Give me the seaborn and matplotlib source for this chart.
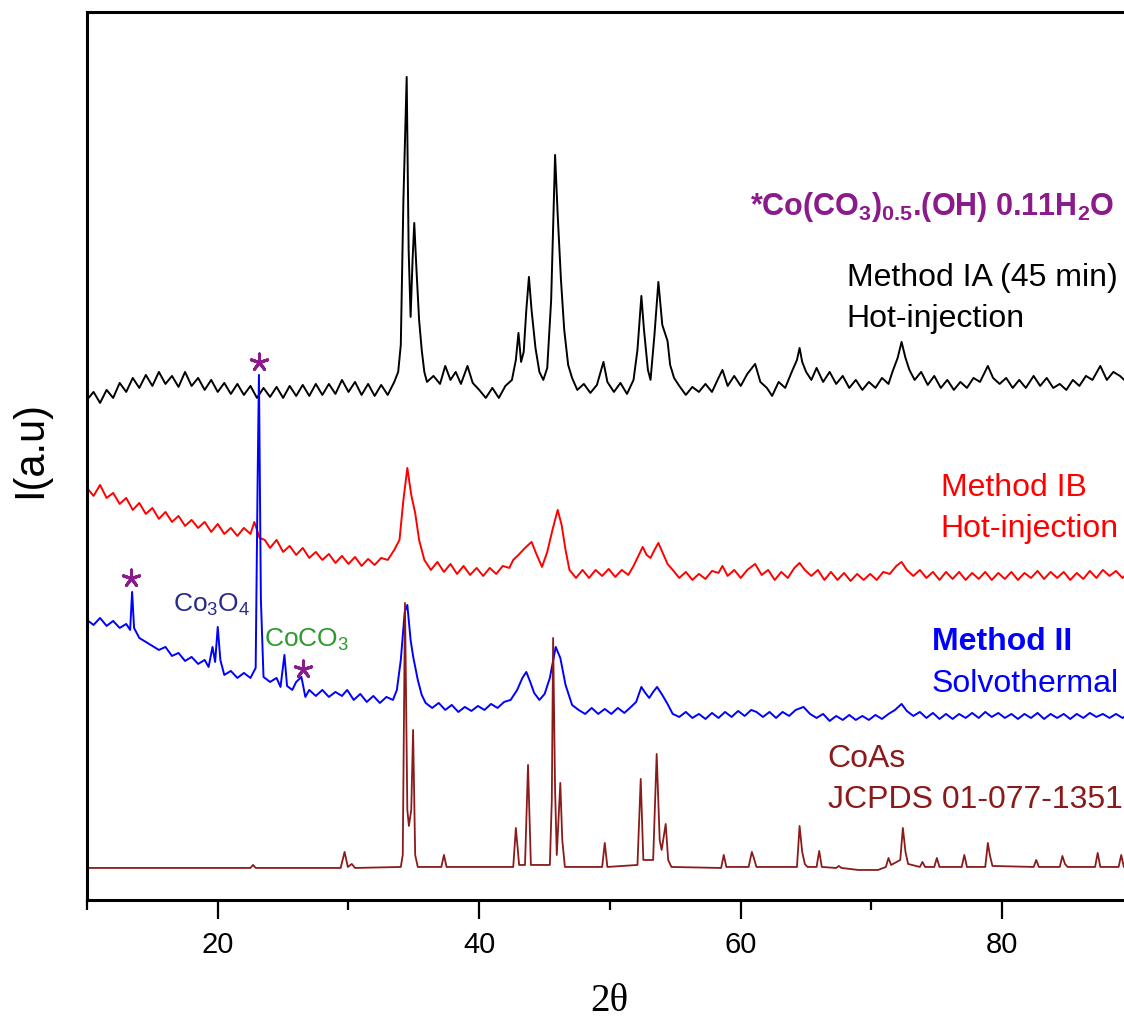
import matplotlib
matplotlib.use("Agg")
import pandas as pd
import seaborn as sns
from matplotlib import pyplot as plt
from matplotlib.ticker import MultipleLocator

# (2theta, intensity a.u.), traces stacked with their own offsets
method_ia = [
    (10.0, 500), (10.5, 508), (11.0, 497), (11.5, 510), (12.0, 502), (12.5, 517), (13.0, 508), (13.5, 522),
    (14.0, 512), (14.5, 525), (15.0, 514), (15.5, 528), (16.0, 516), (16.5, 524), (17.0, 513), (17.5, 528),
    (18.0, 514), (18.5, 522), (19.0, 510), (19.5, 520), (20.0, 508), (20.5, 517), (21.0, 506), (21.5, 516),
    (22.0, 505), (22.5, 514), (23.0, 502), (23.5, 512), (24.0, 503), (24.5, 513), (25.0, 502), (25.5, 514),
    (26.0, 504), (26.5, 515), (27.0, 504), (27.5, 516), (28.0, 505), (28.5, 516), (29.0, 506), (29.5, 520),
    (30.0, 508), (30.5, 518), (31.0, 505), (31.5, 516), (32.0, 504), (32.5, 515), (33.0, 505), (33.5, 518),
    (33.8, 528), (34.0, 555), (34.2, 700), (34.45, 823), (34.6, 650), (34.75, 583), (34.9, 640), (35.03, 677),
    (35.2, 630), (35.4, 580), (35.6, 550), (35.8, 528), (36.0, 518), (36.5, 524), (37.0, 516), (37.4, 534),
    (37.8, 520), (38.2, 528), (38.6, 516), (39.1, 534), (39.5, 517), (40.0, 510), (40.5, 502), (41.0, 512),
    (41.5, 502), (42.0, 514), (42.5, 520), (42.8, 540), (43.0, 567), (43.2, 538), (43.4, 548), (43.6, 590),
    (43.8, 623), (44.0, 590), (44.3, 552), (44.6, 528), (44.9, 520), (45.2, 532), (45.5, 600), (45.8, 745),
    (46.0, 685), (46.25, 620), (46.5, 570), (46.8, 535), (47.1, 522), (47.5, 510), (48.0, 516), (48.5, 507),
    (49.0, 515), (49.5, 538), (49.8, 518), (50.3, 508), (50.8, 517), (51.3, 506), (51.8, 520), (52.1, 550),
    (52.4, 604), (52.6, 570), (52.9, 530), (53.1, 520), (53.4, 565), (53.7, 618), (54.0, 575), (54.4, 559),
    (54.6, 535), (54.9, 522), (55.3, 514), (55.8, 505), (56.3, 513), (56.8, 508), (57.3, 516), (57.8, 508),
    (58.3, 522), (58.6, 530), (59.0, 514), (59.5, 524), (60.0, 514), (60.5, 526), (61.1, 536), (61.5, 518),
    (62.0, 512), (62.4, 504), (62.9, 518), (63.4, 512), (63.9, 528), (64.3, 540), (64.5, 552), (64.7, 538),
    (65.0, 528), (65.4, 520), (65.8, 532), (66.3, 518), (66.8, 528), (67.3, 516), (67.8, 524), (68.3, 512),
    (68.8, 520), (69.3, 510), (69.8, 518), (70.3, 512), (70.8, 522), (71.3, 516), (71.6, 528), (72.0, 542),
    (72.3, 558), (72.6, 542), (72.9, 530), (73.3, 520), (73.8, 528), (74.3, 515), (74.8, 524), (75.3, 512),
    (75.8, 520), (76.3, 510), (76.8, 518), (77.3, 512), (77.8, 522), (78.3, 518), (78.9, 534), (79.3, 522),
    (79.8, 516), (80.3, 522), (80.8, 512), (81.3, 520), (81.8, 512), (82.4, 524), (82.9, 514), (83.4, 522),
    (83.9, 512), (84.4, 516), (84.9, 510), (85.4, 520), (85.9, 514), (86.4, 524), (86.9, 520), (87.5, 534),
    (88.0, 520), (88.5, 528), (89.0, 524), (89.5, 518), (90.0, 522),
]

method_ib = [
    (10.0, 412), (10.5, 404), (11.0, 415), (11.5, 402), (12.0, 407), (12.5, 396), (13.0, 402), (13.5, 390),
    (14.0, 397), (14.5, 386), (15.0, 392), (15.5, 381), (16.0, 388), (16.5, 378), (17.0, 384), (17.5, 374),
    (18.0, 380), (18.5, 372), (19.0, 378), (19.5, 368), (20.0, 376), (20.5, 366), (21.0, 372), (21.5, 364),
    (22.0, 372), (22.5, 366), (22.8, 378), (23.2, 362), (23.6, 360), (24.0, 352), (24.5, 360), (25.0, 348),
    (25.5, 354), (26.0, 345), (26.5, 352), (27.0, 342), (27.5, 348), (28.0, 340), (28.5, 346), (29.0, 337),
    (29.5, 344), (30.0, 336), (30.5, 343), (31.0, 334), (31.5, 341), (32.0, 335), (32.5, 342), (33.0, 340),
    (33.5, 350), (33.9, 360), (34.2, 400), (34.5, 432), (34.8, 405), (35.1, 387), (35.4, 360), (35.8, 340),
    (36.3, 330), (36.8, 338), (37.3, 328), (37.8, 336), (38.3, 326), (38.8, 334), (39.3, 325), (39.8, 332),
    (40.3, 324), (40.8, 332), (41.3, 326), (41.8, 334), (42.3, 332), (42.6, 340), (43.0, 345), (43.5, 352),
    (44.0, 358), (44.4, 345), (44.8, 333), (45.2, 348), (45.6, 370), (46.0, 390), (46.3, 375), (46.6, 350),
    (46.9, 330), (47.4, 322), (47.9, 330), (48.4, 322), (48.9, 330), (49.4, 324), (49.9, 331), (50.4, 323),
    (50.9, 330), (51.4, 325), (51.8, 334), (52.2, 345), (52.5, 353), (52.8, 345), (53.1, 342), (53.4, 350),
    (53.7, 357), (54.0, 348), (54.4, 336), (54.8, 330), (55.3, 322), (55.8, 328), (56.3, 320), (56.8, 326),
    (57.3, 321), (57.8, 329), (58.3, 327), (58.6, 334), (59.0, 324), (59.5, 330), (60.0, 322), (60.5, 330),
    (61.1, 336), (61.6, 325), (62.1, 330), (62.6, 320), (63.1, 328), (63.6, 322), (64.1, 332), (64.5, 337),
    (64.9, 330), (65.4, 324), (65.9, 330), (66.4, 320), (66.9, 328), (67.4, 320), (67.9, 327), (68.4, 319),
    (68.9, 326), (69.4, 320), (69.9, 326), (70.4, 320), (70.9, 328), (71.4, 326), (71.9, 334), (72.3, 338),
    (72.7, 330), (73.2, 324), (73.7, 330), (74.2, 322), (74.7, 328), (75.2, 320), (75.7, 328), (76.2, 321),
    (76.7, 328), (77.2, 320), (77.7, 327), (78.2, 321), (78.7, 328), (79.2, 320), (79.7, 327), (80.2, 321),
    (80.7, 328), (81.2, 320), (81.7, 327), (82.2, 322), (82.7, 329), (83.2, 321), (83.7, 328), (84.2, 322),
    (84.7, 328), (85.2, 320), (85.7, 327), (86.2, 321), (86.7, 329), (87.2, 322), (87.7, 330), (88.2, 324),
    (88.7, 329), (89.2, 322), (89.7, 328), (90.0, 324),
]

method_ii = [
    (10.0, 280), (10.5, 275), (11.0, 282), (11.5, 274), (12.0, 279), (12.5, 272), (13.0, 276), (13.3, 270),
    (13.45, 308), (13.6, 272), (14.0, 262), (14.5, 258), (15.0, 254), (15.5, 250), (16.0, 253), (16.5, 244),
    (17.0, 247), (17.5, 239), (18.0, 243), (18.5, 236), (19.0, 240), (19.3, 233), (19.6, 253), (19.8, 238),
    (20.0, 273), (20.2, 240), (20.5, 225), (21.0, 229), (21.5, 222), (22.0, 227), (22.5, 222), (22.9, 232),
    (23.05, 420), (23.15, 525), (23.3, 300), (23.5, 223), (24.0, 218), (24.5, 222), (24.8, 213), (25.1, 245),
    (25.3, 214), (25.7, 210), (26.0, 218), (26.4, 223), (26.7, 203), (27.0, 210), (27.5, 204), (28.0, 210),
    (28.5, 203), (29.0, 208), (29.5, 204), (29.9, 210), (30.4, 200), (30.9, 206), (31.4, 198), (31.9, 204),
    (32.4, 197), (32.9, 203), (33.4, 200), (33.7, 210), (34.0, 240), (34.3, 288), (34.5, 295), (34.75, 260),
    (34.95, 243), (35.3, 220), (35.6, 205), (35.9, 197), (36.4, 192), (36.9, 197), (37.4, 190), (37.9, 195),
    (38.4, 188), (38.9, 193), (39.4, 189), (39.9, 194), (40.4, 190), (40.9, 196), (41.4, 192), (41.9, 198),
    (42.4, 200), (42.9, 210), (43.3, 222), (43.6, 228), (43.9, 218), (44.2, 207), (44.6, 200), (45.0, 206),
    (45.4, 222), (45.85, 253), (46.2, 242), (46.6, 215), (47.1, 195), (47.6, 190), (48.1, 186), (48.6, 192),
    (49.1, 186), (49.6, 191), (50.1, 186), (50.6, 192), (51.1, 187), (51.6, 193), (52.0, 198), (52.4, 213),
    (52.7, 207), (53.0, 202), (53.3, 208), (53.6, 213), (54.0, 205), (54.4, 196), (54.8, 186), (55.3, 183),
    (55.8, 188), (56.3, 182), (56.8, 186), (57.3, 181), (57.8, 187), (58.3, 182), (58.8, 188), (59.3, 183),
    (59.8, 189), (60.3, 184), (60.8, 190), (61.2, 188), (61.7, 183), (62.2, 188), (62.7, 182), (63.2, 188),
    (63.7, 184), (64.2, 190), (64.8, 193), (65.3, 186), (65.8, 182), (66.3, 186), (66.8, 179), (67.3, 184),
    (67.8, 180), (68.3, 185), (68.8, 180), (69.3, 184), (69.8, 180), (70.3, 185), (70.8, 181), (71.3, 186),
    (71.8, 190), (72.3, 196), (72.7, 189), (73.2, 184), (73.7, 188), (74.2, 182), (74.7, 187), (75.2, 181),
    (75.7, 186), (76.2, 181), (76.7, 186), (77.2, 182), (77.7, 187), (78.2, 182), (78.7, 188), (79.2, 183),
    (79.7, 187), (80.2, 182), (80.7, 186), (81.2, 181), (81.7, 186), (82.2, 182), (82.7, 187), (83.2, 181),
    (83.7, 186), (84.2, 182), (84.7, 186), (85.2, 181), (85.7, 186), (86.2, 182), (86.7, 187), (87.2, 183),
    (87.7, 186), (88.2, 182), (88.7, 186), (89.2, 182), (89.7, 186), (90.0, 183),
]

coas_jcpds = [
    (10.0, 32), (22.5, 32), (22.7, 35), (22.9, 32), (29.4, 32), (29.7, 48), (29.95, 33), (30.25, 36),
    (30.5, 32), (34.0, 33), (34.15, 45), (34.32, 297), (34.5, 90), (34.62, 74), (34.8, 90), (34.94, 170),
    (35.1, 45), (35.3, 33), (37.1, 33), (37.3, 45), (37.5, 33), (42.6, 33), (42.8, 72), (42.95, 50),
    (43.05, 35), (43.5, 35), (43.73, 135), (43.95, 35), (45.4, 35), (45.55, 100), (45.65, 262), (45.8, 110),
    (45.93, 45), (46.2, 117), (46.35, 60), (46.55, 33), (49.4, 33), (49.6, 57), (49.8, 33), (52.1, 35),
    (52.35, 121), (52.55, 40), (53.3, 40), (53.57, 146), (53.8, 60), (53.95, 50), (54.26, 76), (54.45, 40),
    (54.7, 33), (58.5, 32), (58.7, 45), (58.9, 33), (60.6, 33), (60.85, 48), (61.0, 42), (61.2, 33),
    (64.3, 33), (64.5, 74), (64.7, 48), (64.9, 36), (65.1, 33), (65.8, 33), (66.0, 49), (66.2, 33),
    (67.3, 32), (67.5, 34), (67.7, 32), (69.0, 30), (70.5, 30), (71.1, 33), (71.3, 42), (71.5, 35),
    (72.2, 40), (72.4, 72), (72.6, 48), (72.8, 36), (73.7, 33), (73.9, 38), (74.1, 33), (74.8, 33),
    (75.0, 42), (75.2, 33), (76.9, 33), (77.1, 45), (77.3, 33), (78.7, 33), (78.9, 57), (79.05, 45),
    (79.25, 34), (82.4, 33), (82.6, 40), (82.8, 33), (84.4, 33), (84.6, 44), (84.8, 36), (85.0, 33),
    (87.1, 33), (87.3, 47), (87.5, 33), (88.9, 33), (89.1, 45), (89.3, 33), (90.0, 33),
]

# impurity markers (*) for Co(CO3)0.5(OH).0.11H2O
star_x = [13.4, 23.15, 26.5]
star_y = [322, 538, 231]

sns.set_style("ticks", {"axes.edgecolor": "black", "xtick.color": "black",
                        "text.color": "black", "axes.labelcolor": "black"})
plt.rcParams["font.family"] = ["Liberation Sans", "DejaVu Sans"]
plt.rcParams["mathtext.fontset"] = "custom"
plt.rcParams["mathtext.rm"] = "Liberation Sans"
plt.rcParams["mathtext.it"] = "Liberation Sans:italic"
plt.rcParams["mathtext.bf"] = "Liberation Sans:bold"

fig = plt.figure(figsize=(11.24, 10.27), dpi=100)
ax = fig.add_axes([0.0774, 0.1237, 0.9306, 0.8647])

traces = [
    (method_ia, "black", 1.4),
    (method_ib, "#ff0000", 1.4),
    (method_ii, "#0000ff", 1.4),
    (coas_jcpds, "#8b1a1a", 1.3),
]
for pts, color, lw in traces:
    df = pd.DataFrame(pts, columns=["two_theta", "intensity"])
    sns.lineplot(data=df, x="two_theta", y="intensity", color=color, lw=lw,
                 estimator=None, sort=False, ax=ax)

ax.scatter(star_x, star_y, marker=(5, 2, 0), s=150, color="#8b1a8b", linewidths=2.2, zorder=5)

ax.set_xlim(10, 90)
ax.set_ylim(0, 888)
ax.set_yticks([])
ax.xaxis.set_major_locator(MultipleLocator(20))
ax.xaxis.set_minor_locator(MultipleLocator(10))
ax.tick_params(axis="x", which="major", length=14, width=1.6, direction="out",
               labelsize=21, pad=8, colors="black")
ax.tick_params(axis="x", which="minor", length=7, width=1.6, direction="out", colors="black")
for sp in ax.spines.values():
    sp.set_linewidth(2.2)
    sp.set_color("black")

ax.set_xlabel("2θ", fontsize=28, family="Liberation Serif", color="black")
ax.xaxis.set_label_coords(0.499, -0.093)
ax.set_ylabel("I(a.u)", fontsize=30, color="black")
ax.yaxis.set_label_coords(-0.035, 0.507)

fs = 23
ax.text(60.7, 685, r"*Co(CO$_\mathbf{3}$)$_\mathbf{0.5}$.(OH) 0.11H$_\mathbf{2}$O",
        color="#8b1a8b", fontsize=22, fontweight="bold", va="baseline")
ax.text(68.1, 614, "Method IA (45 min)", color="black", fontsize=fs, va="baseline")
ax.text(68.1, 573, "Hot-injection", color="black", fontsize=fs, va="baseline")
ax.text(75.3, 404, "Method IB", color="#ff0000", fontsize=fs, va="baseline")
ax.text(75.3, 363, "Hot-injection", color="#ff0000", fontsize=fs, va="baseline")
ax.text(74.6, 250, "Method II", color="#0000ff", fontsize=fs, fontweight="bold", va="baseline")
ax.text(74.6, 208, "Solvothermal", color="#0000ff", fontsize=fs, va="baseline")
ax.text(66.6, 133, "CoAs", color="#8b1a1a", fontsize=fs, va="baseline")
ax.text(66.7, 92, "JCPDS 01-077-1351", color="#8b1a1a", fontsize=fs, va="baseline")
ax.text(16.6, 288, r"Co$_3$O$_4$", color="#2a2a8a", fontsize=19, va="baseline")
ax.text(23.5, 253, r"CoCO$_3$", color="#2e9a2e", fontsize=19, va="baseline")

fig.savefig("out.png", dpi=100)
